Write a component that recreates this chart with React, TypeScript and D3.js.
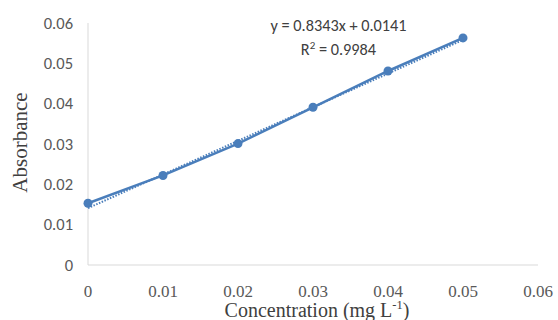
import * as d3 from 'd3';
import React, { useEffect, useRef } from 'react';

const concentrations = [0, 0.01, 0.02, 0.03, 0.04, 0.05];
const absorbances = [0.0153, 0.0222, 0.0301, 0.0391, 0.0481, 0.0563];
const xTicks = [0, 0.01, 0.02, 0.03, 0.04, 0.05, 0.06];
const yTicks = [0, 0.01, 0.02, 0.03, 0.04, 0.05, 0.06];
const slope = 0.8343;
const intercept = 0.0141;
const equationLabel = 'y = 0.8343x + 0.0141';
const r2Value = '0.9984';

export default function App() {
  const svgRef = useRef<SVGSVGElement>(null);
  const width = 558;
  const height = 320;

  useEffect(() => {
    const svg = d3.select(svgRef.current);
    svg.selectAll('*').remove();

    const left = 88, right = 538, top = 23, bottom = 265;
    const x = d3.scaleLinear().domain([0, 0.06]).range([left, right]);
    const y = d3.scaleLinear().domain([0, 0.06]).range([bottom, top]);
    const blue = '#4a7ebb';
    const sans = "Calibri, Carlito, 'Liberation Sans', Arial, sans-serif";
    const serif = "'Liberation Serif', 'Times New Roman', serif";

    // axis lines
    svg.append('line')
      .attr('x1', left).attr('x2', left)
      .attr('y1', top).attr('y2', bottom)
      .attr('stroke', '#d9d9d9').attr('stroke-width', 1);
    svg.append('line')
      .attr('x1', left).attr('x2', right)
      .attr('y1', bottom).attr('y2', bottom)
      .attr('stroke', '#d9d9d9').attr('stroke-width', 1);

    // y tick labels
    svg.append('g').selectAll('text')
      .data(yTicks)
      .enter()
      .append('text')
      .attr('x', left - 15)
      .attr('y', d => y(d))
      .attr('dy', '0.35em')
      .attr('text-anchor', 'end')
      .style('font-family', sans)
      .style('font-size', '16.5px')
      .style('fill', '#595959')
      .text(d => d === 0 ? '0' : d3.format('.2f')(d));

    // x tick labels
    svg.append('g').selectAll('text')
      .data(xTicks)
      .enter()
      .append('text')
      .attr('x', d => x(d))
      .attr('y', 297)
      .attr('text-anchor', 'middle')
      .style('font-family', serif)
      .style('font-size', '17px')
      .style('fill', '#595959')
      .text(d => d === 0 ? '0' : d3.format('.2f')(d));

    // trendline (dotted)
    svg.append('line')
      .attr('x1', x(0)).attr('y1', y(intercept))
      .attr('x2', x(0.05)).attr('y2', y(slope * 0.05 + intercept))
      .attr('stroke', blue)
      .attr('stroke-width', 2)
      .attr('stroke-dasharray', '1.5,1.5');

    const points = concentrations.map((c, i) => [c, absorbances[i]] as [number, number]);

    svg.append('path')
      .datum(points)
      .attr('d', d3.line<[number, number]>().x(d => x(d[0])).y(d => y(d[1])))
      .attr('fill', 'none')
      .attr('stroke', blue)
      .attr('stroke-width', 2.5);

    svg.append('g').selectAll('circle')
      .data(points)
      .enter()
      .append('circle')
      .attr('cx', d => x(d[0]))
      .attr('cy', d => y(d[1]))
      .attr('r', 4.5)
      .attr('fill', blue);

    // equation
    svg.append('text')
      .attr('x', 338.5)
      .attr('y', 31)
      .attr('text-anchor', 'middle')
      .style('font-family', sans)
      .style('font-size', '16.3px')
      .style('fill', '#404040')
      .text(equationLabel);

    const r2 = svg.append('text')
      .attr('x', 338.5)
      .attr('y', 55)
      .attr('text-anchor', 'middle')
      .style('font-family', sans)
      .style('font-size', '16.3px')
      .style('fill', '#404040');
    r2.append('tspan').text('R');
    r2.append('tspan').attr('dy', -6).style('font-size', '11px').text('2');
    r2.append('tspan').attr('dy', 6).text(` = ${r2Value}`);

    // axis titles
    svg.append('text')
      .attr('transform', `translate(27,142.5) rotate(-90)`)
      .attr('text-anchor', 'middle')
      .style('font-family', serif)
      .style('font-size', '21px')
      .style('fill', '#404040')
      .text('Absorbance');

    const xt = svg.append('text')
      .attr('x', 317)
      .attr('y', 317)
      .attr('text-anchor', 'middle')
      .style('font-family', serif)
      .style('font-size', '20px')
      .style('fill', '#404040');
    xt.append('tspan').text('Concentration (mg L');
    xt.append('tspan').attr('dy', -8).style('font-size', '12.5px').text('-1');
    xt.append('tspan').attr('dy', 8).text(')');
  }, []);

  return (
    <svg ref={svgRef} width={width} height={height} style={{ position: 'absolute', left: 0, top: 0 }} />
  );
}
